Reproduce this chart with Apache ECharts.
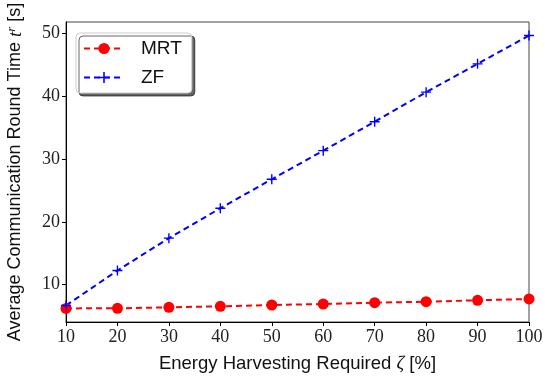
<!DOCTYPE html>
<html>
<head>
<meta charset="utf-8">
<script src="https://cdn.jsdelivr.net/npm/echarts@6/dist/echarts.min.js"></script>
<style>
  html, body { margin: 0; padding: 0; background: #fff; }
  #chart { width: 545px; height: 380px; }
</style>
</head>
<body>
<div id="chart"></div>
<script>
// energy harvesting requirement (%)
const zeta = [10, 20, 30, 40, 50, 60, 70, 80, 90, 100];
// average round time (s)
const mrt = [6.23, 6.25, 6.4, 6.57, 6.77, 6.93, 7.14, 7.3, 7.52, 7.73];
const zf = [6.7, 12.25, 17.4, 22.15, 26.75, 31.3, 35.9, 40.6, 45.1, 49.6];
const yTicks = [10, 20, 30, 40, 50];

const serif = 'Liberation Serif';
const sans = 'Liberation Sans';

const chart = echarts.init(document.getElementById('chart'));

chart.setOption({
  animation: false,
  grid: {
    left: 66, right: 16, top: 22, bottom: 58,
    outerBoundsMode: 'none',
    show: true, borderColor: '#444', borderWidth: 1
  },
  legend: {
    left: 76, top: 33,
    orient: 'vertical',
    itemWidth: 40, itemHeight: 14, itemGap: 10,
    padding: [6, 10, 6, 7],
    backgroundColor: '#fff',
    borderColor: '#ccc', borderWidth: 1, borderRadius: 4,
    shadowColor: 'rgba(0,0,0,0.6)', shadowOffsetX: 3, shadowOffsetY: 3, shadowBlur: 0,
    textStyle: { fontFamily: sans, fontSize: 19, lineHeight: 19, color: '#111', padding: [0, 0, 0, 12] },
    data: ['MRT', 'ZF']
  },
  xAxis: {
    type: 'value', min: 10, max: 100, interval: 10,
    name: 'Energy Harvesting Required {i|ζ} [%]',
    nameLocation: 'middle', nameGap: 32,
    nameTextStyle: {
      fontFamily: sans, fontSize: 18.5, color: '#111',
      rich: { i: { fontFamily: serif, fontStyle: 'italic', fontSize: 19 } }
    },
    axisLine: { lineStyle: { color: '#000', width: 1 } },
    axisTick: { inside: false, length: 4, lineStyle: { color: '#000' } },
    axisLabel: { fontFamily: serif, fontSize: 18, color: '#222', margin: 6 },
    splitLine: { show: false }
  },
  yAxis: {
    type: 'value', min: 4.07, max: 51.75,
    name: 'Average Communication Round Time {i|t}{s|r} [s]',
    nameLocation: 'middle', nameGap: 40, nameRotate: 90,
    nameTextStyle: {
      fontFamily: sans, fontSize: 18, color: '#111',
      rich: {
        i: { fontFamily: serif, fontStyle: 'italic', fontSize: 19 },
        s: { fontFamily: serif, fontStyle: 'italic', fontSize: 13, verticalAlign: 'top', padding: [0, 0, 8, 0] }
      }
    },
    axisLine: { show: true, lineStyle: { color: '#000', width: 1 } },
    axisTick: { show: true, length: 4, customValues: yTicks, lineStyle: { color: '#000' } },
    axisLabel: { fontFamily: serif, fontSize: 18, color: '#222', margin: 6, customValues: yTicks },
    splitLine: { show: false }
  },
  series: [
    {
      name: 'MRT', type: 'line',
      data: zeta.map((x, i) => [x, mrt[i]]),
      symbol: 'circle', symbolSize: 11,
      itemStyle: { color: '#ff0000' },
      lineStyle: { color: '#ff0000', width: 2, type: [6, 4] }
    },
    {
      name: 'ZF', type: 'line',
      data: zeta.map((x, i) => [x, zf[i]]),
      symbol: 'path://M4.3,0h1.4v10h-1.4zM0,4.3h10v1.4h-10z', symbolSize: 10,
      itemStyle: { color: '#0000ff' },
      lineStyle: { color: '#0000ff', width: 2, type: [6, 4] }
    }
  ]
});
</script>
</body>
</html>
